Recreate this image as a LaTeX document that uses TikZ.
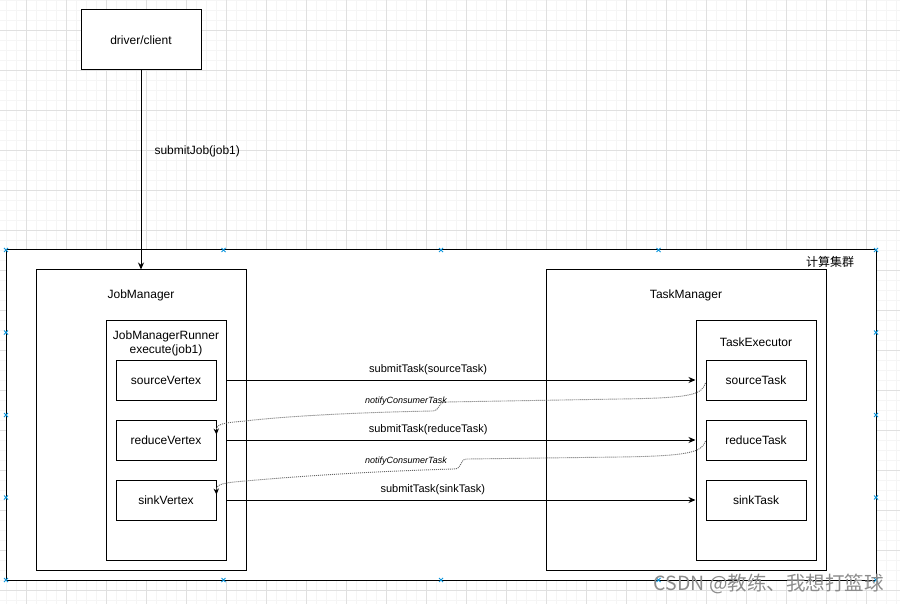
\documentclass[tikz,border=0pt]{standalone}
\usepackage{fontspec}
\setmainfont{Liberation Sans}
\newfontfamily\cjk{Noto Sans CJK SC}
\usepackage{tikz}
\usetikzlibrary{arrows.meta, calc, positioning}

\begin{document}
\begin{tikzpicture}[x=1pt, y=-1pt, >={Stealth[length=7pt, width=6pt]},
    box/.style={draw, line width=1pt, fill=white, inner sep=0pt, font=\fontsize{12}{14}\selectfont},
    txt/.style={inner sep=0pt, align=center, font=\fontsize{12}{14}\selectfont},
    flow/.style={->, line width=1pt},
    lbl/.style={inner sep=0pt, font=\fontsize{11}{13}\selectfont},
    notify/.style={-{Stealth[length=6pt, width=5.5pt, color=black]}, dash pattern=on 1pt off 1pt, line width=0.9pt, draw=black!60},
    nlbl/.style={inner sep=0pt, font=\fontsize{9}{11}\selectfont\itshape},
    handle/.style={draw=cyan!80!blue, line width=0.9pt},
    minorgrid/.style={draw=black!4, line width=0.6pt},
    majorgrid/.style={draw=black!12, line width=0.8pt}]
    \useasboundingbox (0,0) rectangle (900,604);
    \fill[white] (0,0) rectangle (900,604);

    % 1. Grid
    \foreach \i in {0,...,89} \draw[minorgrid] ({6.7+10*\i},0) -- ++(0,604);
    \foreach \j in {0,...,60} \draw[minorgrid] (0,{10*\j}) -- ++(900,0);
    \foreach \i in {0,...,21} \draw[majorgrid] ({26.7+40*\i},0) -- ++(0,604);
    \foreach \j in {0,...,14} \draw[majorgrid] (0,{30+40*\j}) -- ++(900,0);

    % 2. Client and cluster
    \node[box, minimum width=120pt, minimum height=60pt] (client) at (141,40) {driver/client};
    \node[box, minimum width=870pt, minimum height=330pt] (cluster) at (441,415) {};
    \node[txt] (clusterlbl) at (830,262) {\cjk 计算集群};

    % 3. JobManager side
    \node[box, minimum width=210pt, minimum height=300pt] (jm) at (141,420) {};
    \node[txt] (jmlbl) at (141,295) {JobManager};
    \node[box, minimum width=120pt, minimum height=240pt] (runner) at (166,440) {};
    \node[txt] (runnerlbl) at (166,343) {JobManagerRunner\\execute(job1)};
    \node[box, minimum width=100pt, minimum height=40pt] (sv) at (166,380) {sourceVertex};
    \node[box, minimum width=100pt, minimum height=40pt] (rv) at (166,440) {reduceVertex};
    \node[box, minimum width=100pt, minimum height=40pt] (kv) at (166,500) {sinkVertex};

    % 4. TaskManager side
    \node[box, minimum width=280pt, minimum height=300pt] (tm) at (686,420) {};
    \node[txt] (tmlbl) at (686,295) {TaskManager};
    \node[box, minimum width=120pt, minimum height=240pt] (exec) at (756,440) {};
    \node[txt] (execlbl) at (756,342) {TaskExecutor};
    \node[box, minimum width=100pt, minimum height=40pt] (st) at (756,380) {sourceTask};
    \node[box, minimum width=100pt, minimum height=40pt] (rt) at (756,440) {reduceTask};
    \node[box, minimum width=100pt, minimum height=40pt] (kt) at (756,500) {sinkTask};

    % 5. Connectors
    \draw[flow] (client) -- (jm)
        node[pos=0.405, anchor=west, xshift=13pt, inner sep=0pt, font=\fontsize{12}{14}\selectfont] {submitJob(job1)};
    \draw[flow] (runner.east |- sv) -- (exec.west |- st) node[lbl, pos=0.43, above=5pt] {submitTask(sourceTask)};
    \draw[flow] (runner.east |- rv) -- (exec.west |- rt) node[lbl, pos=0.43, above=5pt] {submitTask(reduceTask)};
    \draw[flow] (runner.east |- kv) -- (exec.west |- kt) node[lbl, pos=0.44, above=5pt] {submitTask(sinkTask)};

    \draw[notify] ([yshift=-3pt]st.west) .. controls (702,395) and (690,398) .. (620,399) -- (446,402)
        .. controls (437,402) and (441,411) .. (432,411) .. controls (330,413) and (270,418) .. (245,421)
        .. controls (222,423) and (216,424) .. ([yshift=-15pt]rv.north east);
    \draw[notify] ([yshift=-1pt]rt.west) .. controls (702,452) and (690,456) .. (620,457) -- (467,459)
        .. controls (459,459) and (463,469) .. (454,469) .. controls (350,472) and (280,478) .. (245,481)
        .. controls (222,483) and (216,484) .. ([yshift=-15pt]kv.north east);
    \node[nlbl] (n1) at (406,401) {notifyConsumerTask};
    \node[nlbl] (n2) at (406,461) {notifyConsumerTask};

    % 6. Selection handles
    \foreach \x in {6,223.5,441,658.5,876} \foreach \y in {250,580}
        \draw[handle] (\x,\y) +(-2,-2) -- +(2,2) +(-2,2) -- +(2,-2);
    \foreach \x in {6,876} \foreach \y in {332.5,415,497.5}
        \draw[handle] (\x,\y) +(-2,-2) -- +(2,2) +(-2,2) -- +(2,-2);

    % 7. Watermark
    \node[anchor=east, inner sep=0pt, text=black!45, font=\cjk\fontsize{19.5}{22}\selectfont] (mark) at (884,584) {CSDN @教练、我想打篮球};
\end{tikzpicture}
\end{document}
